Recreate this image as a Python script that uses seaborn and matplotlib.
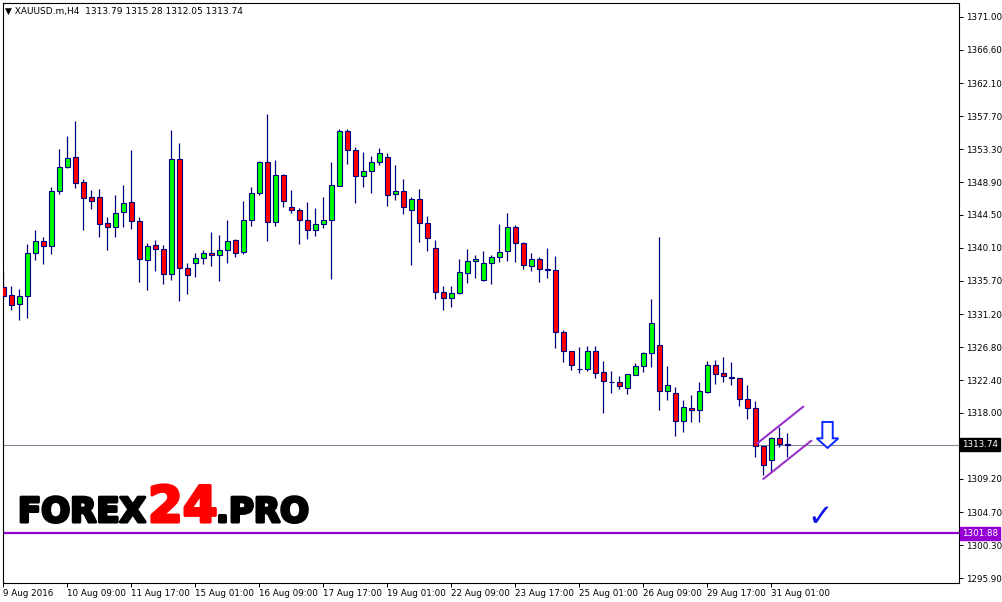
import matplotlib
matplotlib.use("Agg")
import matplotlib.pyplot as plt
import matplotlib.transforms as mtransforms
import matplotlib.patheffects as pe
from matplotlib.patches import Polygon
import numpy as np
import pandas as pd
import seaborn as sns

# XAUUSD H4 candles
opens = [1334.86, 1333.79, 1332.58, 1333.65, 1339.41, 1341.02, 1340.35, 1347.71, 1350.92, 1352.26,
         1348.92, 1346.91, 1346.91, 1343.43, 1342.89, 1344.90, 1346.24, 1343.69, 1338.47, 1340.48,
         1339.95, 1336.60, 1351.99, 1337.40, 1338.07, 1338.74, 1339.41, 1339.14, 1339.81, 1341.15,
         1339.54, 1343.83, 1347.44, 1351.59, 1343.56, 1349.85, 1345.57, 1345.17, 1343.83, 1342.49,
         1343.29, 1343.83, 1348.38, 1355.74, 1353.20, 1349.72, 1350.39, 1351.59, 1352.26, 1347.31,
         1347.71, 1345.17, 1346.64, 1343.43, 1340.08, 1334.19, 1333.39, 1334.06, 1336.73, 1338.34,
         1335.80, 1338.07, 1338.88, 1339.68, 1342.89, 1340.75, 1337.67, 1338.61, 1337.27, 1337.14,
         1328.84, 1326.29, 1323.88, 1323.88, 1326.29, 1323.48, 1322.14, 1322.14, 1321.34, 1323.08,
         1324.28, 1326.02, 1327.09, 1320.94, 1320.67, 1316.92, 1318.66, 1318.39, 1320.80, 1324.42,
         1323.35, 1322.81, 1322.68, 1319.87, 1318.66, 1313.57, 1311.70, 1314.64, 1313.79]
highs = [1337.00, 1334.99, 1334.59, 1340.62, 1342.49, 1341.55, 1348.25, 1353.33, 1355.07, 1357.08,
         1349.32, 1347.84, 1347.98, 1344.23, 1347.18, 1348.51, 1353.20, 1344.23, 1340.75, 1341.15,
         1340.48, 1355.88, 1354.14, 1338.07, 1339.41, 1339.81, 1342.22, 1341.82, 1343.83, 1341.29,
         1346.37, 1348.25, 1351.73, 1358.02, 1351.86, 1349.99, 1347.84, 1345.44, 1346.24, 1345.44,
         1346.91, 1351.59, 1356.01, 1356.01, 1353.60, 1352.93, 1352.40, 1353.47, 1352.80, 1351.19,
         1349.32, 1346.91, 1347.98, 1344.36, 1341.15, 1334.99, 1334.99, 1338.61, 1339.95, 1339.14,
         1339.68, 1339.14, 1343.29, 1344.77, 1343.16, 1340.88, 1339.41, 1338.88, 1340.08, 1339.01,
         1329.10, 1326.29, 1326.83, 1326.96, 1326.96, 1324.95, 1323.61, 1322.95, 1323.21, 1324.68,
         1326.16, 1333.25, 1341.55, 1324.28, 1321.47, 1319.73, 1320.40, 1322.14, 1324.95, 1325.09,
         1325.49, 1324.82, 1322.68, 1321.74, 1319.60, 1313.57, 1314.78, 1316.12, 1315.28]
lows = [1333.25, 1331.78, 1330.44, 1330.71, 1338.47, 1337.94, 1339.28, 1347.31, 1350.79, 1348.11,
        1342.49, 1345.30, 1341.55, 1339.81, 1341.55, 1342.89, 1342.62, 1335.53, 1334.46, 1337.00,
        1335.26, 1335.80, 1332.99, 1333.92, 1336.20, 1337.94, 1337.67, 1335.66, 1338.07, 1338.88,
        1339.28, 1343.03, 1347.18, 1341.02, 1343.03, 1345.57, 1344.77, 1340.62, 1341.29, 1341.69,
        1342.76, 1335.93, 1348.38, 1351.33, 1346.10, 1348.25, 1347.44, 1351.19, 1345.70, 1346.51,
        1344.63, 1337.80, 1340.88, 1339.68, 1333.25, 1331.78, 1332.18, 1333.92, 1335.39, 1336.06,
        1335.70, 1335.26, 1338.21, 1338.34, 1338.21, 1337.27, 1337.00, 1335.53, 1336.06, 1326.69,
        1324.82, 1323.75, 1323.35, 1323.61, 1322.68, 1317.99, 1320.67, 1321.20, 1320.54, 1323.08,
        1323.48, 1324.15, 1318.39, 1319.73, 1314.91, 1315.45, 1316.79, 1316.79, 1320.67, 1321.87,
        1322.14, 1321.74, 1318.93, 1317.19, 1312.10, 1309.69, 1310.09, 1313.44, 1312.05]
closes = [1333.65, 1332.45, 1333.65, 1339.41, 1341.02, 1340.35, 1347.71, 1350.92, 1352.13, 1348.78,
          1346.77, 1346.37, 1343.29, 1342.89, 1344.77, 1346.10, 1343.69, 1338.61, 1340.35, 1339.95,
          1336.60, 1351.99, 1337.40, 1336.47, 1338.74, 1339.41, 1339.14, 1339.81, 1341.02, 1339.41,
          1343.83, 1347.44, 1351.59, 1343.56, 1349.85, 1346.37, 1345.17, 1343.83, 1342.49, 1343.29,
          1343.83, 1348.51, 1355.74, 1353.20, 1349.72, 1350.39, 1351.59, 1352.80, 1347.18, 1347.71,
          1345.57, 1346.64, 1343.43, 1341.42, 1334.19, 1333.39, 1334.06, 1336.87, 1338.34, 1338.61,
          1338.07, 1338.88, 1339.54, 1342.89, 1340.75, 1337.80, 1338.61, 1337.27, 1337.14, 1328.84,
          1326.29, 1324.42, 1323.88, 1326.29, 1323.35, 1322.28, 1322.14, 1321.61, 1323.21, 1324.28,
          1326.02, 1330.04, 1320.94, 1321.74, 1316.92, 1318.79, 1318.39, 1320.94, 1324.42, 1323.21,
          1322.95, 1322.68, 1319.87, 1318.66, 1313.57, 1311.03, 1314.64, 1313.84, 1313.74]

date_labels = ["9 Aug 2016", "10 Aug 09:00", "11 Aug 17:00", "15 Aug 01:00", "16 Aug 09:00",
               "17 Aug 17:00", "19 Aug 01:00", "22 Aug 09:00", "23 Aug 17:00", "25 Aug 01:00",
               "26 Aug 09:00", "29 Aug 17:00", "31 Aug 01:00"]
price_ticks = [1371.00, 1366.60, 1362.10, 1357.70, 1353.30, 1348.90, 1344.50, 1340.10, 1335.70,
               1331.20, 1326.80, 1322.40, 1318.00, 1309.20, 1304.70, 1300.30, 1295.90]
bid_price = 1313.74
support_level = 1301.88

# channel drawn on the last candles (candle index, price)
channel_upper_x = [94.25, 100.0]
channel_upper_y = [1313.93, 1318.84]
channel_lower_x = [95.0, 101.0]
channel_lower_y = [1309.16, 1314.28]

df = pd.DataFrame({"open": opens, "high": highs, "low": lows, "close": closes})
df["idx"] = np.arange(len(df))

sns.set_theme(style="white")
plt.rcParams["font.family"] = ["DejaVu Sans"]

fig = plt.figure(figsize=(10.02, 6.02), dpi=100)
fig.patch.set_facecolor("white")
ax = fig.add_axes([2.5 / 1002, (602 - 582.5) / 602, (959.3 - 2.5) / 1002, (582.5 - 2.7) / 602])
ax.set_facecolor("white")

edge = "#000080"
# wicks
ax.vlines(df["idx"], df["low"], df["high"], color=edge, lw=0.9, zorder=2)
# bodies
body_bottom = df[["open", "close"]].min(axis=1)
body_height = (df["close"] - df["open"]).abs()
colors = np.where(df["close"] > df["open"], "#00FF00",
                  np.where(df["close"] < df["open"], "#FF0000", "white"))
ax.bar(df["idx"], body_height, bottom=body_bottom, width=0.56, color=colors,
       edgecolor=edge, linewidth=0.8, zorder=3)

# levels
ax.axhline(bid_price, color="#7D8A96", lw=0.8, zorder=1)
ax.axhline(support_level, color="#9400D3", lw=1.6, zorder=1)

# channel
ax.plot(channel_upper_x, channel_upper_y, color="#9932CC", lw=1.5, zorder=4)
ax.plot(channel_lower_x, channel_lower_y, color="#9932CC", lw=1.5, zorder=4)

# hollow down arrow
arrow = [(102.38, 1316.79), (103.68, 1316.79), (103.68, 1314.6), (104.38, 1314.6),
         (103.03, 1313.31), (101.68, 1314.6), (102.38, 1314.6)]
ax.add_patch(Polygon(arrow, closed=True, facecolor="white", edgecolor="#0A28FF", lw=1.4, zorder=5))
ax.text(102.1, 1303.94, "\u2713", color="#1414E6", fontsize=22, ha="center", va="center",
        fontweight="bold", zorder=5)

ax.set_xlim(-0.1, 119.5)
ax.set_ylim(1295.30, 1372.91)

ax.set_xticks(range(0, 8 * len(date_labels), 8))
ax.set_xticklabels(date_labels, ha="left")
ax.set_yticks(price_ticks)
ax.set_yticklabels([f"{p:.2f}" for p in price_ticks])
ax.yaxis.tick_right()
ax.tick_params(axis="x", direction="out", length=3, width=0.7, pad=1.5, labelsize=6.3,
               colors="black", bottom=True)
ax.tick_params(axis="y", direction="out", length=3, width=0.7, pad=1.5, labelsize=6.3,
               colors="black", right=True, left=False)
for s in ax.spines.values():
    s.set_color("black")
    s.set_linewidth(0.8)

# price boxes on the right scale
trans = mtransforms.blended_transform_factory(ax.transAxes, ax.transData)
ax.text(1.003, bid_price, f"{bid_price:.2f}", transform=trans, color="white", fontsize=6.3,
        ha="left", va="center", bbox=dict(boxstyle="square,pad=0.2", fc="black", ec="black"),
        clip_on=False, zorder=6)
ax.text(1.003, support_level, f"{support_level:.2f}", transform=trans, color="white", fontsize=6.3,
        ha="left", va="center", bbox=dict(boxstyle="square,pad=0.2", fc="#9400D3", ec="#9400D3"),
        clip_on=False, zorder=6)

# header
fig.text(5 / 1002, 1 - 11 / 602, "\u25bc XAUUSD.m,H4  1313.79 1315.28 1312.05 1313.74",
         fontsize=6.5, ha="left", va="center", color="black")

# watermark
base_y = 1 - 522 / 602
fig.text(18 / 1002, base_y, "FOREX", fontsize=24.5, fontweight="bold", color="black",
         ha="left", va="baseline", path_effects=[pe.withStroke(linewidth=2.2, foreground="black")])
fig.text(148 / 1002, base_y, "24", fontsize=36, fontweight="bold", color="#FF0000",
         ha="left", va="baseline", path_effects=[pe.withStroke(linewidth=2.2, foreground="#FF0000")])
fig.text(216 / 1002, base_y, ".PRO", fontsize=24.5, fontweight="bold", color="black",
         ha="left", va="baseline", path_effects=[pe.withStroke(linewidth=2.2, foreground="black")])

fig.savefig("out.png", dpi=100)
